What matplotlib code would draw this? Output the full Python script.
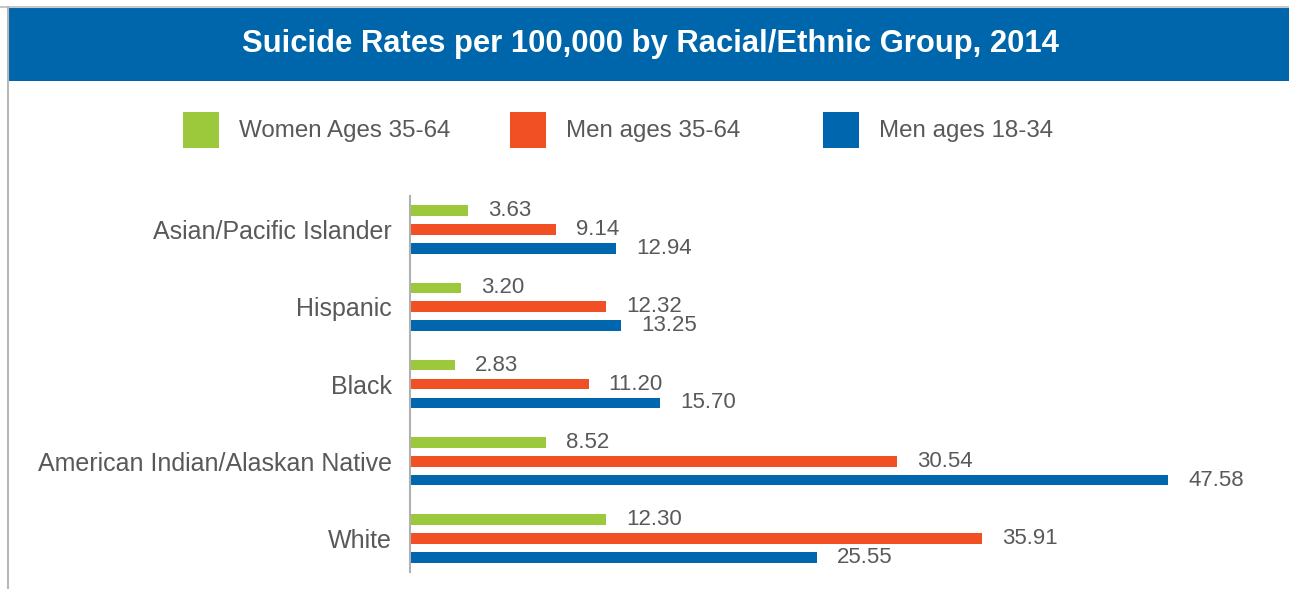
import matplotlib.pyplot as plt
from matplotlib.patches import Rectangle

# suicide rates per 100,000, 2014
groups = ['Asian/Pacific Islander', 'Hispanic', 'Black',
          'American Indian/Alaskan Native', 'White']
series = ['Women Ages 35-64', 'Men ages 35-64', 'Men ages 18-34']
women_35_64 = [3.63, 3.20, 2.83, 8.52, 12.30]
men_35_64 = [9.14, 12.32, 11.20, 30.54, 35.91]
men_18_34 = [12.94, 13.25, 15.70, 47.58, 25.55]

colors = ['#9cc93b', '#f15025', '#0066ad']
text_gray = '#58595b'
W, H = 1289, 589

plt.rcParams['font.family'] = ['Liberation Sans', 'DejaVu Sans']

fig = plt.figure(figsize=(W / 100, H / 100), dpi=100)

def fx(px):
    return px / W

def fy(py):
    return 1 - py / H

# frame lines and title banner
fig.add_artist(plt.Line2D([0, 1], [fy(6.5), fy(6.5)], color='#c8c8c8', lw=1.5))
fig.add_artist(plt.Line2D([fx(8), fx(8)], [fy(6.5), fy(589)], color='#b8b8b8', lw=1.5))
fig.add_artist(Rectangle((fx(8), fy(80.5)), 1 - fx(8), fy(7) - fy(80.5),
                         transform=fig.transFigure, color='#0066ac', lw=0))
fig.text(fx(650), fy(44), 'Suicide Rates per 100,000 by Racial/Ethnic Group, 2014',
         color='white', fontsize=22.3, fontweight='bold', ha='center', va='center')

# legend
legend_x = [183, 510, 823]
for name, col, lx in zip(series, colors, legend_x):
    fig.add_artist(Rectangle((fx(lx), fy(148)), fx(36), fy(112) - fy(148),
                             transform=fig.transFigure, color=col, lw=0))
    fig.text(fx(lx + 56), fy(131), name, color=text_gray, fontsize=17.4,
             ha='left', va='center')

# bars
ax = fig.add_axes([fx(410), fy(572), fx(797), fy(196) - fy(572)])
offsets = [-0.245, 0.0, 0.245]
all_values = [women_35_64, men_35_64, men_18_34]
for vals, col, off in zip(all_values, colors, offsets):
    ys = [i + off for i in range(len(groups))]
    ax.barh(ys, vals, height=0.14, color=col, lw=0)
    for y, v in zip(ys, vals):
        ax.annotate(f'{v:.2f}', (v, y), xytext=(20, 0), textcoords='offset pixels',
                    ha='left', va='center', color=text_gray, fontsize=16,
                    annotation_clip=False)

ax.set_xlim(0, 50)
ax.set_ylim(4.436, -0.436)
ax.set_yticks(range(len(groups)))
ax.set_yticklabels(groups, fontsize=18, color=text_gray)
ax.tick_params(axis='y', length=0, pad=13)
ax.set_xticks([])
for side in ['top', 'right', 'bottom']:
    ax.spines[side].set_visible(False)
ax.spines['left'].set_color('#b0b0b0')
ax.spines['left'].set_linewidth(1.5)
ax.patch.set_alpha(0)

fig.savefig('out.png', dpi=100)
